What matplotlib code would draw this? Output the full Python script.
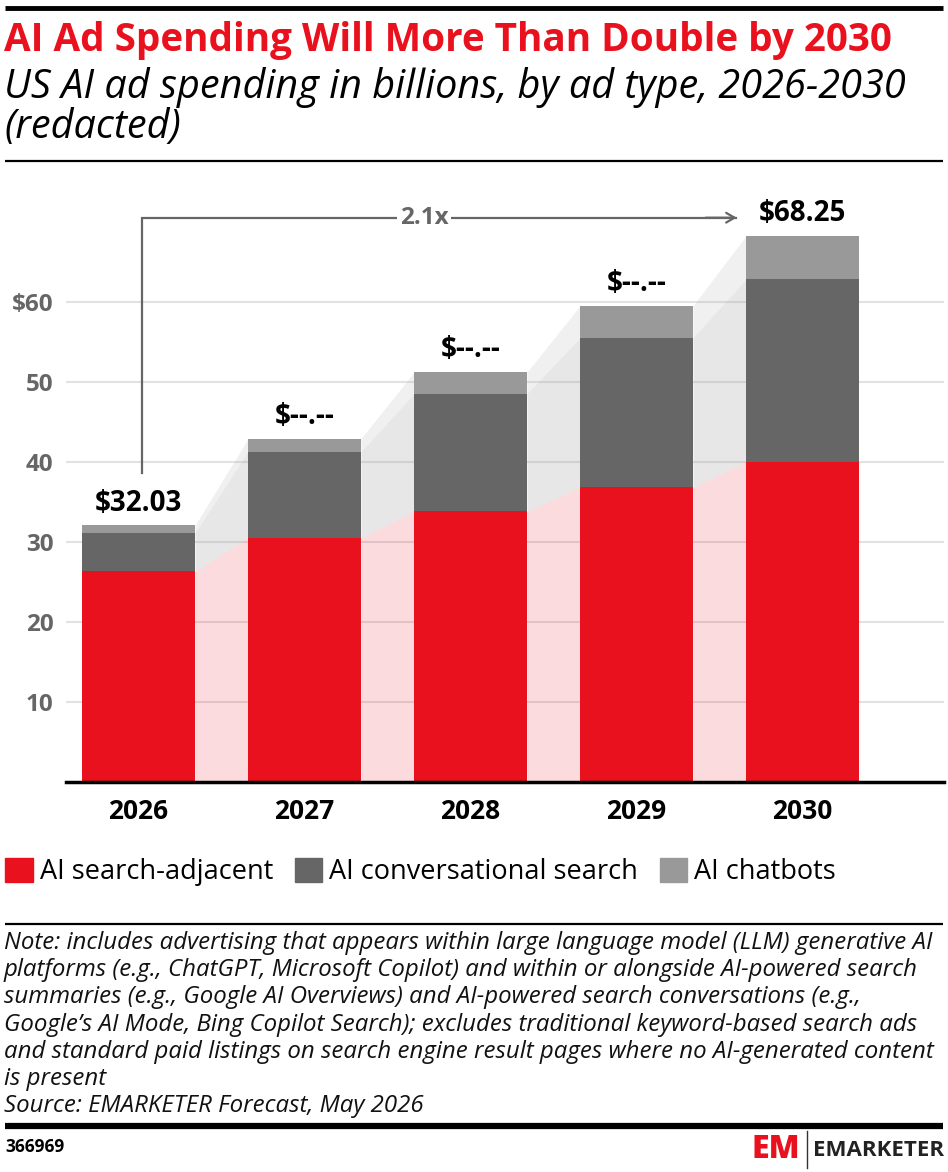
import matplotlib
matplotlib.use("Agg")
import matplotlib.pyplot as plt
from matplotlib.patches import Patch
from matplotlib.lines import Line2D

# data
years = ["2026", "2027", "2028", "2029", "2030"]
search_adjacent = [26.3, 30.5, 33.8, 36.8, 40.0]
conversational = [4.8, 10.75, 14.7, 18.7, 22.8]
chatbots = [0.93, 1.65, 2.7, 4.0, 5.45]
total_labels = ["$32.03", "$--.--", "$--.--", "$--.--", "$68.25"]
y_ticks = [10, 20, 30, 40, 50, 60]
y_ticklabels = ["10", "20", "30", "40", "50", "$60"]
growth_label = "2.1x"

RED = "#e8111d"
DARK = "#666666"
LIGHT = "#999999"
FONT = ["Open Sans", "DejaVu Sans"]
plt.rcParams['font.family'] = FONT

W, H = 948, 1172
fig = plt.figure(figsize=(W / 100, H / 100), dpi=100)


def fx(px):
    return px / W


def fy(py):
    return 1 - py / H


def hline(y, lw, x0=5, x1=943):
    fig.add_artist(Line2D([fx(x0), fx(x1)], [fy(y), fy(y)], color="black", lw=lw,
                          solid_capstyle="butt"))


# header
hline(8, 3.5)
fig.text(fx(4), fy(40), "AI Ad Spending Will More Than Double by 2030", color=RED,
         fontsize=27.8, fontweight="bold", va="center", ha="left")
fig.text(fx(4), fy(88), "US AI ad spending in billions, by ad type, 2026-2030",
         fontsize=28.5, style="italic", va="center", ha="left")
fig.text(fx(4), fy(128), "(redacted)", fontsize=28.5, style="italic", va="center", ha="left")
hline(161, 1.6)

# chart
top_px, zero_px = 170, 781.7
ax = fig.add_axes([fx(66), fy(zero_px), fx(944 - 66), (zero_px - top_px) / H])
ymax = (zero_px - top_px) / 8.0
ax.set_ylim(0, ymax)
ax.set_xlim(-0.437, 4.852)

x = list(range(len(years)))
w = 0.68
lvl1 = search_adjacent
lvl2 = [a + b for a, b in zip(search_adjacent, conversational)]
lvl3 = [a + b for a, b in zip(lvl2, chatbots)]

# connector bands between bars
for i in range(len(x) - 1):
    xs = [x[i] + w / 2, x[i + 1] - w / 2]
    ax.fill_between(xs, [0, 0], [lvl1[i], lvl1[i + 1]], color=RED, alpha=0.15, lw=0, zorder=1)
    ax.fill_between(xs, [lvl1[i], lvl1[i + 1]], [lvl2[i], lvl2[i + 1]], color="#a0a0a0",
                    alpha=0.25, lw=0, zorder=1)
    ax.fill_between(xs, [lvl2[i], lvl2[i + 1]], [lvl3[i], lvl3[i + 1]], color="#b4b4b4",
                    alpha=0.2, lw=0, zorder=1)

ax.bar(x, search_adjacent, w, color=RED, zorder=3, label="AI search-adjacent")
ax.bar(x, conversational, w, bottom=lvl1, color=DARK, zorder=3, label="AI conversational search")
ax.bar(x, chatbots, w, bottom=lvl2, color=LIGHT, zorder=3, label="AI chatbots")

for xi, t, lab in zip(x, lvl3, total_labels):
    ax.text(xi, t + 2.8, lab, ha="center", va="center", fontsize=20, fontweight="bold",
            color="black", zorder=5)

# growth bracket
y_br = 70.5
ax.plot([x[0] + 0.02, x[0] + 0.02, 3.6], [lvl3[0] + 6.6, y_br, y_br], color=DARK, lw=1.6,
        solid_joinstyle="miter", zorder=4)
ax.annotate("", xy=(3.62, y_br), xytext=(3.4, y_br),
            arrowprops=dict(arrowstyle="->,head_length=0.6,head_width=0.35", color=DARK, lw=1.6),
            zorder=4)
ax.text(1.72, y_br, growth_label, ha="center", va="center", fontsize=17.5, fontweight="bold",
        color=DARK, zorder=5, bbox=dict(facecolor="white", edgecolor="none", pad=2))

ax.set_yticks(y_ticks)
ax.set_yticklabels(y_ticklabels, fontsize=17.5, fontweight="bold", color=DARK)
ax.set_xticks(x)
ax.set_xticklabels(years, fontsize=19, fontweight="bold", color="black")
ax.tick_params(axis="y", length=0, pad=9)
ax.tick_params(axis="x", length=0, pad=12)
ax.grid(axis="y", color="#e2e2e2", lw=1.5, zorder=0)
ax.set_axisbelow(True)
for s in ["top", "right", "left"]:
    ax.spines[s].set_visible(False)
ax.spines["bottom"].set_linewidth(2.5)
ax.spines["bottom"].set_zorder(6)

# legend
handles = [Patch(color=RED), Patch(color=DARK), Patch(color=LIGHT)]
labels = ["AI search-adjacent", "AI conversational search", "AI chatbots"]
fig.legend(handles, labels, loc="center left", bbox_to_anchor=(fx(0), fy(872)), ncol=3,
           frameon=False, fontsize=19.5, handlelength=1.02, handleheight=1.02,
           handletextpad=0.25, columnspacing=0.8, borderaxespad=0, borderpad=0.2)

# notes
hline(924, 1.6)
note = ("Note: includes advertising that appears within large language model (LLM) generative AI\n"
        "platforms (e.g., ChatGPT, Microsoft Copilot) and within or alongside AI-powered search\n"
        "summaries (e.g., Google AI Overviews) and AI-powered search conversations (e.g.,\n"
        "Google\u2019s AI Mode, Bing Copilot Search); excludes traditional keyword-based search ads\n"
        "and standard paid listings on search engine result pages where no AI-generated content\n"
        "is present\n"
        "Source: EMARKETER Forecast, May 2026")
fig.text(fx(4), fy(931), note, fontsize=17.3, style="italic", va="top", ha="left",
         linespacing=1.18, color="#111111")

# footer
hline(1126, 4.5)
fig.text(fx(5), fy(1147), "366969", fontsize=12.5, fontweight="bold", va="center", ha="left")
fig.text(fx(800), fy(1150), "EM", fontsize=23, fontweight="heavy", color=RED, va="center",
         ha="right")
fig.add_artist(Line2D([fx(807), fx(807)], [fy(1131), fy(1168)], color="#333333", lw=1))
fig.text(fx(944), fy(1150), "EMARKETER", fontsize=16, fontweight="bold", color="#222222",
         va="center", ha="right")

fig.savefig("out.png", dpi=100)
